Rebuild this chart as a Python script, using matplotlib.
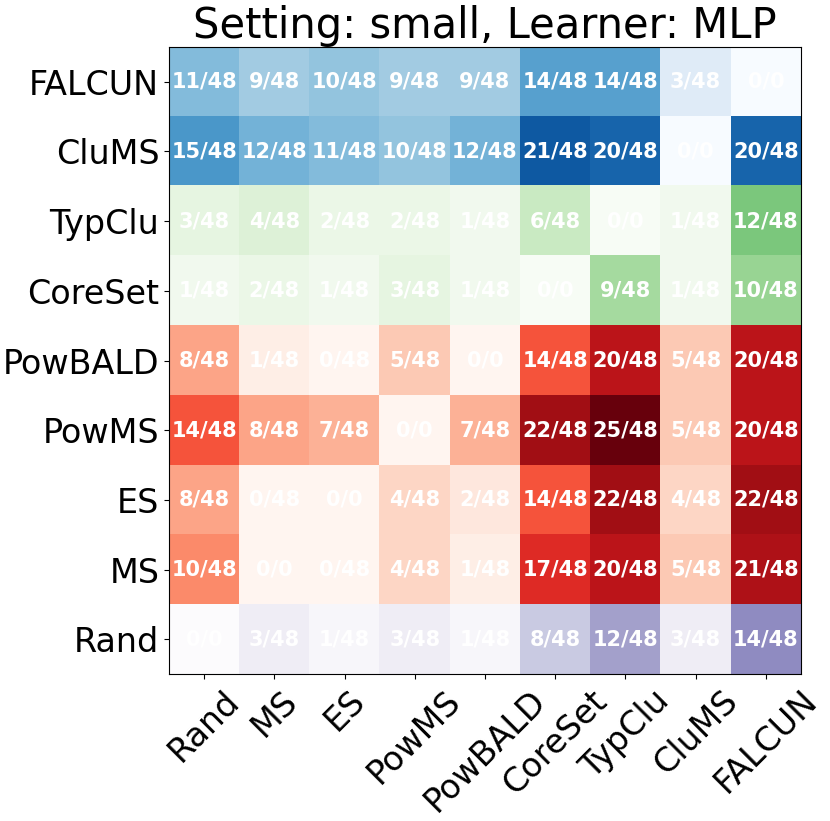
import numpy as np
import matplotlib
matplotlib.use("Agg")
import matplotlib.pyplot as plt

methods = ["Rand", "MS", "ES", "PowMS", "PowBALD", "CoreSet", "TypClu", "CluMS", "FALCUN"]
row_labels = ["FALCUN", "CluMS", "TypClu", "CoreSet", "PowBALD", "PowMS", "ES", "MS", "Rand"]

# wins out of 48 (row method beats column method); -1 marks the diagonal (0/0)
wins = np.array([
    [11, 9, 10, 9, 9, 14, 14, 3, -1],
    [15, 12, 11, 10, 12, 21, 20, -1, 20],
    [3, 4, 2, 2, 1, 6, -1, 1, 12],
    [1, 2, 1, 3, 1, -1, 9, 1, 10],
    [8, 1, 0, 5, -1, 14, 20, 5, 20],
    [14, 8, 7, -1, 7, 22, 25, 5, 20],
    [8, 0, -1, 4, 2, 14, 22, 4, 22],
    [10, -1, 0, 4, 1, 17, 20, 5, 21],
    [-1, 3, 1, 3, 1, 8, 12, 3, 14],
])
total = 48

# colormap per row
row_cmaps = ["Blues", "Blues", "Greens", "Greens", "Reds", "Reds", "Reds", "Reds", "Purples"]

vals = np.where(wins < 0, 0, wins).astype(float)
vmax = vals.max()

fig = plt.figure(figsize=(8.3, 8.21), dpi=100)
ax = fig.add_axes([0.2036, 0.1787, 0.7614, 0.7644])

for cmap in set(row_cmaps):
    mask = np.array([[c != cmap] * len(methods) for c in row_cmaps])
    ax.imshow(np.ma.masked_array(vals, mask), cmap=cmap, vmin=0, vmax=vmax, aspect="auto")

for i in range(len(row_labels)):
    for j in range(len(methods)):
        txt = "0/0" if wins[i, j] < 0 else "{}/{}".format(wins[i, j], total)
        ax.text(j, i, txt, ha="center", va="center", color="white",
                fontsize=15, fontweight="bold")

ax.set_xticks(range(len(methods)))
ax.set_xticklabels(methods, rotation=45, fontsize=24)
ax.set_yticks(range(len(row_labels)))
ax.set_yticklabels(row_labels, fontsize=24)
ax.set_title("Setting: small, Learner: MLP", fontsize=30)

fig.savefig("out.png")
